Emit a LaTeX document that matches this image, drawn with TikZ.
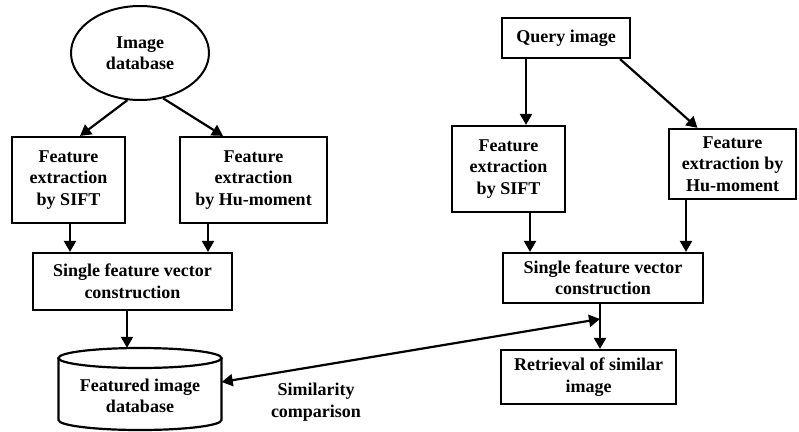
\documentclass[tikz,border=0pt]{standalone}
\usepackage{fontspec}
\setmainfont{Liberation Serif}
\usetikzlibrary{arrows.meta,shapes.geometric}
\begin{document}
\begin{tikzpicture}[x=1pt,y=-1pt,
  every node/.style={font=\fontsize{18}{21.5}\selectfont\bfseries, align=center, inner sep=0pt},
  box/.style={draw, line width=2.2pt, rectangle},
  arr/.style={line width=2.2pt, -{Triangle[length=11pt,width=12pt]}},
  darr/.style={line width=2.2pt, {Triangle[length=11pt,width=12pt]}-{Triangle[length=11pt,width=12pt]}},
  cyl/.style={line width=2.2pt}]
\useasboundingbox[fill=white] (0,0) rectangle (799,431);
% left side
\node[draw, ellipse, line width=2pt, minimum width=138pt, minimum height=94pt] (img) at (140,53) {Image\\database};
\node[box, minimum width=113pt, minimum height=86pt] (sift1) at (68.5,180) {Feature\\extraction\\by SIFT};
\node[box, minimum width=147pt, minimum height=86pt] (hu1) at (253.5,180) {Feature\\extraction\\by Hu-moment};
\node[box, minimum width=199pt, minimum height=57pt] (sfv1) at (132.5,281.5) {Single feature vector\\construction};
\node[minimum width=163pt, minimum height=82pt] (db) at (140,389) {};
\node (dbtext) at (140,396) {Featured image\\database};
\node (sim) at (316,402) {Similarity\\comparison};
% cylinder
\draw[cyl] (140,358) ellipse [x radius=81.5, y radius=10];
\draw[cyl] (58.5,358) -- (58.5,420) arc[start angle=180, end angle=0, x radius=81.5, y radius=10] -- (221.5,358);
% right side
\node[box, minimum width=128pt, minimum height=40pt] (q) at (566,38) {Query image};
\node[box, minimum width=113pt, minimum height=86pt] (sift2) at (508.5,169) {Feature\\extraction\\by SIFT};
\node[box, minimum width=127pt, minimum height=70pt] (hu2) at (732.5,164) {Feature\\extraction by\\Hu-moment};
\node[box, minimum width=200pt, minimum height=50pt] (sfv2) at (603,278) {Single feature vector\\construction};
\node[box, minimum width=175pt, minimum height=54pt] (ret) at (588.5,377) {Retrieval of similar\\image};
\coordinate (cmp) at (600,319);
% arrows left
\draw[arr] (img.255) -- ([xshift=11.5pt]sift1.north);
\draw[arr] (img.297) -- ([xshift=-30.5pt]hu1.north);
\draw[arr] ([xshift=1.5pt]sift1.south) -- ([xshift=1.5pt]sift1.south |- sfv1.north);
\draw[arr] ([xshift=-45.5pt]hu1.south) -- ([xshift=-45.5pt]hu1.south |- sfv1.north);
\draw[arr] ([xshift=-5.5pt]sfv1.south) -- ([xshift=-5.5pt]sfv1.south |- db.north);
% arrows right
\draw[arr] ([xshift=-40pt]q.south) -- ([xshift=-40pt]q.south |- sift2.north);
\draw[arr] ([xshift=54pt]q.south) -- ([xshift=-35pt]hu2.north);
\draw[arr] ([xshift=21.5pt]sift2.south) -- ([xshift=21.5pt]sift2.south |- sfv2.north);
\draw[arr] ([xshift=-46.5pt]hu2.south) -- ([xshift=-46.5pt]hu2.south |- sfv2.north);
\draw[arr] ([xshift=-3pt]sfv2.south) -- ([xshift=-3pt]sfv2.south |- ret.north);
\draw[darr] ([yshift=7pt]db.east) -- (cmp);
\end{tikzpicture}
\end{document}
